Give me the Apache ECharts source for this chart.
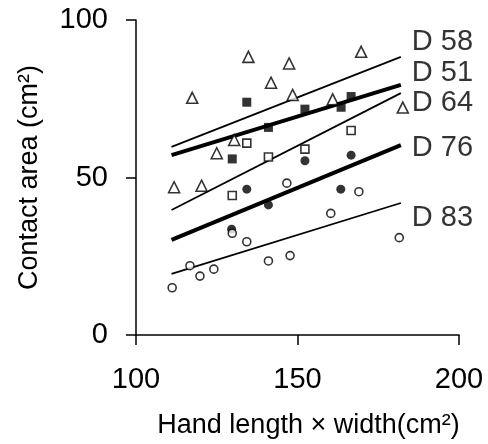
<!DOCTYPE html>
<html>
<head>
<meta charset="utf-8">
<script src="https://cdn.jsdelivr.net/npm/echarts@6/dist/echarts.min.js"></script>
<style>
  html, body { margin: 0; padding: 0; background: #fff; }
  #chart { width: 488px; height: 444px; }
</style>
</head>
<body>
<div id="chart"></div>
<script>
// data
var groupNames = ['D 58', 'D 51', 'D 64', 'D 76', 'D 83'];

var d58 = [[111.8, 46.9], [120.3, 47.4], [117.4, 75.3], [125.0, 57.7], [130.4, 61.9], [134.8, 88.3],
           [141.8, 80.1], [147.4, 86.2], [148.5, 76.2], [160.9, 74.8], [169.7, 89.9], [182.6, 72.2]];
var d51 = [[129.8, 55.9], [134.3, 73.9], [141.0, 65.9], [152.3, 71.7], [163.5, 72.3], [166.6, 75.7]];
var d64 = [[129.8, 44.3], [134.3, 60.9], [141.0, 56.5], [152.3, 59.0], [166.6, 64.9]];
var d76 = [[129.6, 33.6], [134.3, 46.3], [141.0, 41.3], [152.3, 55.3], [163.4, 46.3], [166.6, 57.1]];
var d83 = [[111.2, 15.0], [116.7, 22.0], [119.8, 18.7], [124.1, 20.9], [129.8, 32.3], [134.3, 29.6],
           [141.0, 23.5], [147.7, 25.2], [146.7, 48.2], [160.3, 38.6], [169.0, 45.5], [181.5, 30.9]];

// fitted lines: x range and y at both ends
var fitX = [111, 182];
var fit58 = [59.7, 88.3];
var fit51 = [57.1, 79.4];
var fit64 = [39.7, 76.8];
var fit76 = [30.2, 60.3];
var fit83 = [19.4, 41.9];

var xTicks = [100, 150, 200];
var yTicks = [0, 50, 100];

var chart = echarts.init(document.getElementById('chart'));

var font = 'Liberation Sans, Arial, sans-serif';

function fitLine(ys, w) {
  return {
    type: 'line',
    data: [[fitX[0], ys[0]], [fitX[1], ys[1]]],
    symbol: 'none',
    lineStyle: { color: '#000', width: w },
    z: 2
  };
}

function pts(data, symbol, size, filled) {
  return {
    type: 'scatter',
    data: data,
    symbol: symbol,
    symbolSize: size,
    itemStyle: {
      color: filled ? '#000' : '#fff',
      borderColor: '#000',
      borderWidth: filled ? 0 : 1.6
    },
    z: 3
  };
}

// where the group names sit (left edge x, middle y)
var labelSpots = [[185.4, 93.0], [185.4, 83.2], [185.4, 73.7], [185.4, 59.4], [185.4, 37.1]];

var option = {
  animation: false,
  grid: { left: 136, right: 29, top: 20, bottom: 109 },
  xAxis: {
    type: 'value',
    min: xTicks[0], max: xTicks[xTicks.length - 1], interval: 50,
    name: 'Hand length × width(cm²)',
    nameLocation: 'middle',
    nameGap: 77,
    nameTextStyle: { fontSize: 27, color: '#000', fontFamily: font, padding: [0, 0, 0, 22] },
    axisLine: { lineStyle: { color: '#000', width: 1.5 } },
    axisTick: { length: 10, lineStyle: { color: '#000', width: 1.5 } },
    axisLabel: { fontSize: 29, color: '#000', fontFamily: font, margin: 30 },
    splitLine: { show: false }
  },
  yAxis: {
    type: 'value',
    min: yTicks[0], max: yTicks[yTicks.length - 1], interval: 50,
    name: 'Contact area (cm²)',
    nameLocation: 'middle',
    nameGap: 93,
    nameTextStyle: { fontSize: 27, color: '#000', fontFamily: font },
    axisLine: { show: true, lineStyle: { color: '#000', width: 1.5 } },
    axisTick: { show: true, length: 10, lineStyle: { color: '#000', width: 1.5 } },
    axisLabel: { fontSize: 29, color: '#000', fontFamily: font, margin: 28 },
    splitLine: { show: false }
  },
  series: [
    fitLine(fit58, 1.8),
    fitLine(fit51, 4),
    fitLine(fit64, 1.8),
    fitLine(fit76, 4),
    fitLine(fit83, 1.8),
    pts(d58, 'triangle', 11, false),
    pts(d51, 'rect', 9, true),
    pts(d64, 'rect', 8, false),
    pts(d76, 'circle', 9, true),
    pts(d83, 'circle', 8, false),
    {
      type: 'scatter',
      symbolSize: 0,
      silent: true,
      data: labelSpots.map(function (p, i) {
        return { value: p, name: groupNames[i] };
      }),
      label: {
        show: true,
        position: 'right',
        distance: 0,
        formatter: '{b}',
        fontSize: 29,
        color: '#000',
        fontFamily: font
      }
    }
  ]
};

chart.setOption(option);
</script>
</body>
</html>
